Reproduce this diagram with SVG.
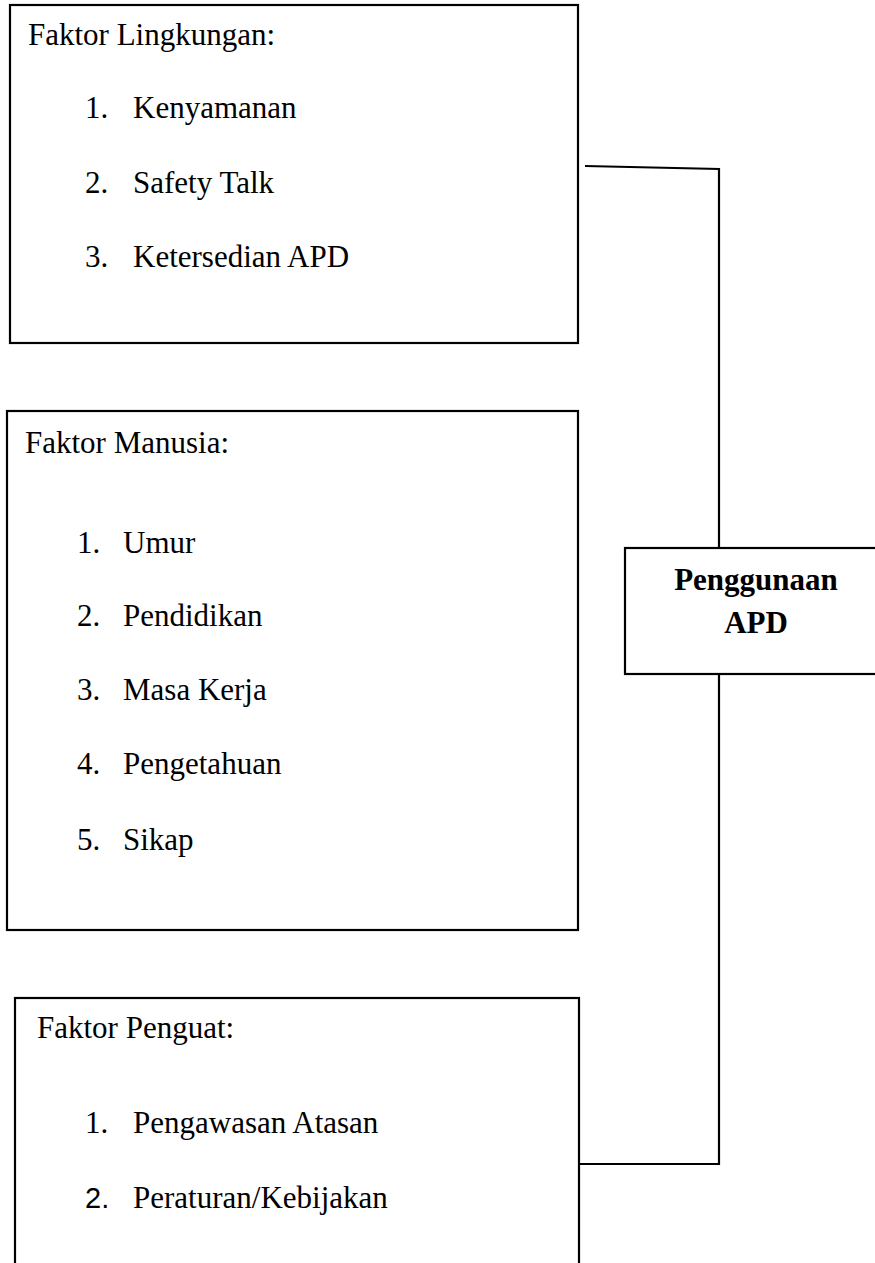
<svg xmlns="http://www.w3.org/2000/svg" width="875" height="1263" viewBox="0 0 875 1263">
<style>
.box{fill:#fff;stroke:#000;stroke-width:2.2}
.t{font-family:"Liberation Serif","Times New Roman",serif;font-size:31px;fill:#000}
.s{font-family:"Liberation Sans",Arial,sans-serif;font-size:29px;fill:#000}
.b{font-family:"Liberation Serif","Times New Roman",serif;font-size:31px;font-weight:bold;fill:#000;text-anchor:middle}
.c{fill:none;stroke:#000;stroke-width:2.2}
</style>
<rect width="875" height="1263" fill="#fff"/>
<g id="connectors">
<polyline class="c" points="585,166 719,169 719,548"/>
<polyline class="c" points="719,674 719,1164 579,1164"/>
</g>
<g id="faktor-lingkungan">
<rect class="box" x="10" y="5" width="568" height="338"/>
<text class="t" x="28" y="45">Faktor Lingkungan:</text>
<text class="t" x="85" y="118">1.</text><text class="t" x="133" y="118">Kenyamanan</text>
<text class="t" x="85" y="193">2.</text><text class="t" x="133" y="193">Safety Talk</text>
<text class="t" x="85" y="267">3.</text><text class="t" x="133" y="267">Ketersedian APD</text>
</g>
<g id="faktor-manusia">
<rect class="box" x="7" y="411" width="571" height="519"/>
<text class="t" x="25" y="453">Faktor Manusia:</text>
<text class="t" x="77" y="553">1.</text><text class="t" x="123" y="553">Umur</text>
<text class="t" x="77" y="626">2.</text><text class="t" x="123" y="626">Pendidikan</text>
<text class="t" x="77" y="700">3.</text><text class="t" x="123" y="700">Masa Kerja</text>
<text class="t" x="77" y="774">4.</text><text class="t" x="123" y="774">Pengetahuan</text>
<text class="t" x="77" y="850">5.</text><text class="t" x="123" y="850">Sikap</text>
</g>
<g id="faktor-penguat">
<rect class="box" x="15" y="998" width="564" height="290"/>
<text class="t" x="37" y="1038">Faktor Penguat:</text>
<text class="t" x="85" y="1133">1.</text><text class="t" x="133" y="1133">Pengawasan Atasan</text>
<text class="s" x="85" y="1208">2.</text><text class="t" x="133" y="1208">Peraturan/Kebijakan</text>
</g>
<g id="penggunaan-apd">
<rect class="box" x="625" y="548" width="262" height="126"/>
<text class="b" x="756" y="590">Penggunaan</text>
<text class="b" x="756" y="633">APD</text>
</g>
</svg>
